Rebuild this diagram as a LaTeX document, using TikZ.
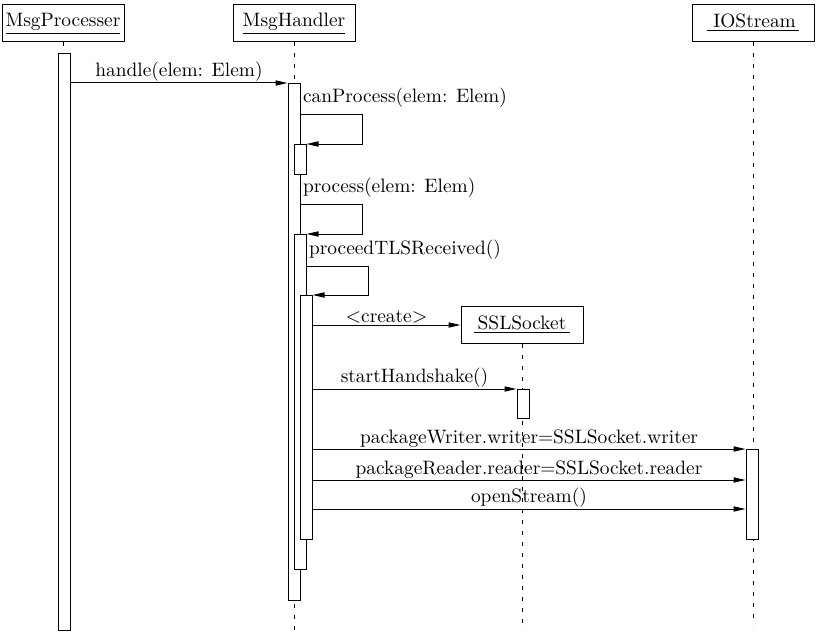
\documentclass[tikz,border=0pt]{standalone}
\usepackage{amsmath}
\usepackage{tikz}
\usetikzlibrary{arrows.meta,calc}

\tikzset{
  obj/.style={draw, minimum width=61pt, minimum height=18.5pt, inner sep=0pt},
  act/.style={draw, fill=white, minimum width=6pt, inner sep=0pt, anchor=north},
  life/.style={dash pattern=on 2pt off 3.5pt},
  msg/.style={-{Triangle[length=6pt,width=2.6pt]}},
  lbl/.style={above, inner sep=0.5pt},
  self/.style={anchor=south west, inner xsep=1pt, inner ysep=3pt}
}

\begin{document}
\begin{tikzpicture}[x=0.5pt,y=-0.5pt,line width=0.5pt,font=\fontsize{9.7pt}{12pt}\selectfont]
  \useasboundingbox (0,0) rectangle (822,642);

  \node[obj] (proc) at (63,23.5) {\underline{MsgProcesser}};
  \node[obj] (hand) at (294,23.5) {\underline{MsgHandler}};
  \node[obj] (io) at (753,23) {\underline{\ IOStream\,}};
  \node[obj] (ssl) at (522,325) {\underline{\,SSLSocket\,}};

  \coordinate (end) at (0,630);
  \coordinate (l1) at (0,114);
  \coordinate (l2) at (0,204);
  \coordinate (l3) at (0,266);
  \coordinate (m2) at (0,480);
  \coordinate (m3) at (0,509);

  \draw[life] (proc.south) -- (proc.south |- end);
  \draw[life] (hand.south) -- (hand.south |- end);
  \draw[life] (ssl.south) -- (ssl.south |- end);
  \draw[life] (io.south) -- ($(io.south |- end)+(0,-5)$);

  \node[act, minimum height=288.5pt] (pa) at (64,53) {};
  \node[act, minimum height=258.5pt] (ha) at (294,83) {};
  \node[act, minimum height=15pt] (hb) at (300,144) {};
  \node[act, minimum height=167.5pt] (hc) at (300,234) {};
  \node[act, minimum height=122pt] (hd) at (306,295) {};
  \node[act, minimum height=14.5pt] (sa) at (523,389) {};
  \node[act, minimum height=45pt] (ia) at (752,449) {};

  \draw[msg] (pa.east |- ha.north) -- node[lbl] {handle(elem: Elem)} (ha.north west);

  \draw[msg] (ha.east |- l1) node[self] {canProcess(elem: Elem)} -- ++(62,0) |- (hb.north east);
  \draw[msg] (ha.east |- l2) node[self] {process(elem: Elem)} -- ++(62,0) |- (hc.north east);
  \draw[msg] (hc.east |- l3) node[self] {proceedTLSReceived()} -- ++(62,0) |- (hd.north east);

  \draw[msg] (hd.east |- ssl.west) -- node[lbl] {$<$create$>$} (ssl.west);
  \draw[msg] (hd.east |- sa.north) -- node[lbl] {startHandshake()} (sa.north west);
  \draw[msg] (hd.east |- ia.north) -- node[lbl] {packageWriter.writer=SSLSocket.writer} (ia.north west);
  \draw[msg] (hd.east |- m2) -- node[lbl] {packageReader.reader=SSLSocket.reader} (ia.west |- m2);
  \draw[msg] (hd.east |- m3) -- node[lbl] {openStream()} (ia.west |- m3);
\end{tikzpicture}
\end{document}
